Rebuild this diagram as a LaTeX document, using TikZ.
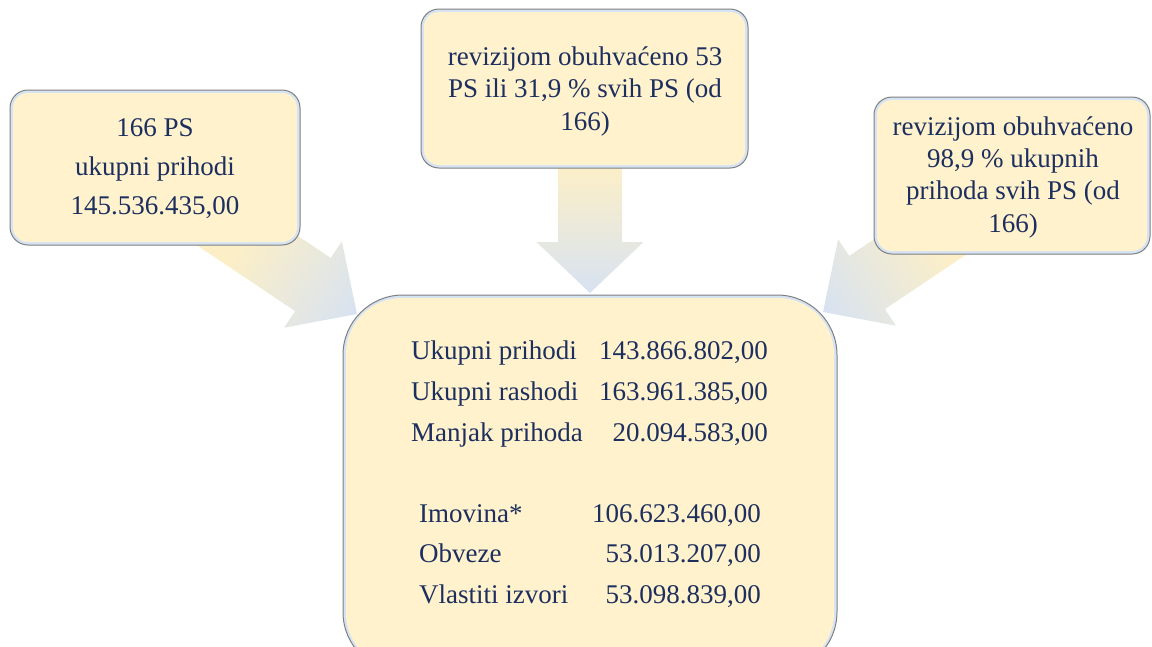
\documentclass[tikz,border=0pt]{standalone}
\usepackage{fontspec}
\setmainfont{Liberation Serif}
\definecolor{boxfill}{HTML}{FFF2CC}
\definecolor{boxband}{HTML}{D6E3F3}
\definecolor{boxline}{HTML}{7F7F7F}
\definecolor{txt}{HTML}{1C2F5E}
\definecolor{arrY}{HTML}{FCEFC8}
\definecolor{arrB}{HTML}{D7E2F1}
\tikzset{
  boxsmall/.style={rectangle, rounded corners=18pt, draw=boxline, line width=1pt, fill=boxband, inner sep=0pt},
  boxbig/.style={rectangle, rounded corners=60pt, draw=boxline, line width=1pt, fill=boxband, inner sep=0pt},
  innerfill/.style={fill=boxfill},
  lbl/.style={text=txt, font=\fontsize{27}{30}\selectfont, inner sep=0pt},
  ctr/.style={lbl, anchor=base},
  lft/.style={lbl, anchor=base west},
  rgt/.style={lbl, anchor=base east},
}
\begin{document}
\begin{tikzpicture}[x=1pt,y=-1pt]
\useasboundingbox (0,0) rectangle (1152,646);
\clip (0,0) rectangle (1152,646);

% arrow tips
\coordinate (tipC) at (590,293);
\coordinate (tipL) at (357,314);
\coordinate (tipR) at (823,312);

% centre arrow
\begin{scope}[transform canvas={shift={(tipC)},rotate=-90}]
  \clip (-130,-32) -- (-51,-32) -- (-51,-53.5) -- (0,0) -- (-51,53.5) -- (-51,32) -- (-130,32) -- cycle;
  \shade[left color=arrY, right color=arrB] (-125,-60) rectangle (0,60);
  \fill[arrY] (-140,-60) rectangle (-124.5,60);
\end{scope}
% left arrow
\begin{scope}[transform canvas={shift={(tipL)},rotate=-33.8}]
  \clip (-190,-32) -- (-53,-32) -- (-53,-52) -- (0,0) -- (-53,52) -- (-53,32) -- (-190,32) -- cycle;
  \shade[left color=arrY, right color=arrB] (-135,-60) rectangle (0,60);
  \fill[arrY] (-200,-60) rectangle (-134.5,60);
\end{scope}
% right arrow
\begin{scope}[transform canvas={shift={(tipR)},rotate=-146.2}]
  \clip (-190,-32) -- (-53,-32) -- (-53,-52) -- (0,0) -- (-53,52) -- (-53,32) -- (-190,32) -- cycle;
  \shade[left color=arrY, right color=arrB] (-135,-60) rectangle (0,60);
  \fill[arrY] (-200,-60) rectangle (-134.5,60);
\end{scope}

% boxes
\node[boxsmall, minimum width=290pt, minimum height=155pt] (L) at (155,167.5) {};
\fill[innerfill, rounded corners=15pt] ([xshift=3.5pt,yshift=-3.5pt]L.north west) rectangle ([xshift=-3.5pt,yshift=3.5pt]L.south east);
\node[boxsmall, minimum width=327pt, minimum height=159pt] (T) at (584.5,88.5) {};
\fill[innerfill, rounded corners=15pt] ([xshift=3.5pt,yshift=-3.5pt]T.north west) rectangle ([xshift=-3.5pt,yshift=3.5pt]T.south east);
\node[boxsmall, minimum width=276pt, minimum height=157pt] (R) at (1012,175.5) {};
\fill[innerfill, rounded corners=15pt] ([xshift=3.5pt,yshift=-3.5pt]R.north west) rectangle ([xshift=-3.5pt,yshift=3.5pt]R.south east);
\node[boxbig, minimum width=494pt, minimum height=377pt] (B) at (590,483.5) {};
\fill[innerfill, rounded corners=56pt] ([xshift=3.5pt,yshift=-3.5pt]B.north west) rectangle ([xshift=-3.5pt,yshift=3.5pt]B.south east);

% left box text
\node[ctr] (l1) at (155,136) {166 PS};
\node[ctr] (l2) at (155,175) {ukupni prihodi};
\node[ctr] (l3) at (155,214) {145.536.435,00};
% top box text
\node[ctr] (t1) at (585,65) {revizijom obuhvaćeno 53};
\node[ctr] (t2) at (585,97.5) {PS ili 31,9 \% svih PS (od};
\node[ctr] (t3) at (585,130) {166)};
% right box text
\node[ctr] (r1) at (1013,135) {revizijom obuhvaćeno};
\node[ctr] (r2) at (1013,167) {98,9 \% ukupnih};
\node[ctr] (r3) at (1013,199.5) {prihoda svih PS (od};
\node[ctr] (r4) at (1013,232) {166)};
% bottom box table
\node[lft] (b1a) at (411,359) {Ukupni prihodi};
\node[rgt] (b1b) at (768,359) {143.866.802,00};
\node[lft] (b2a) at (411,400) {Ukupni rashodi};
\node[rgt] (b2b) at (768,400) {163.961.385,00};
\node[lft] (b3a) at (411,441) {Manjak prihoda};
\node[rgt] (b3b) at (768,441) {20.094.583,00};
\node[lft] (b4a) at (419,522) {Imovina*};
\node[rgt] (b4b) at (761,522) {106.623.460,00};
\node[lft] (b5a) at (419,562.5) {Obveze};
\node[rgt] (b5b) at (761,562.5) {53.013.207,00};
\node[lft] (b6a) at (419,603) {Vlastiti izvori};
\node[rgt] (b6b) at (761,603) {53.098.839,00};
\end{tikzpicture}
\end{document}
